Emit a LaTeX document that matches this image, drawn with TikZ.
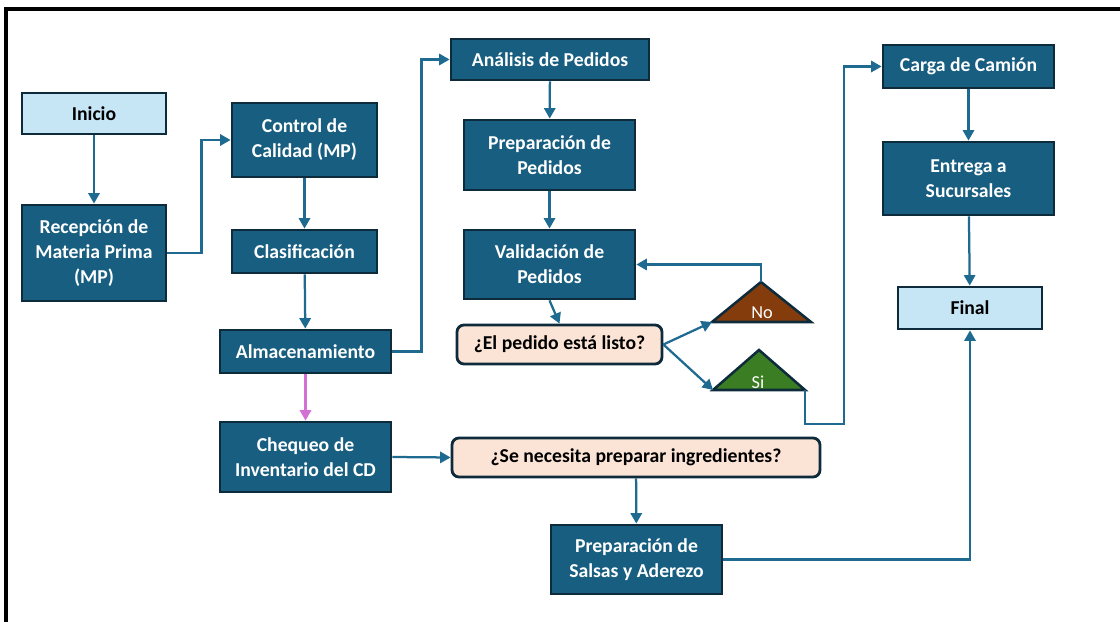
\documentclass[tikz,border=0pt]{standalone}
\usepackage{fontspec}
\setmainfont{Carlito}
\usetikzlibrary{arrows.meta,positioning}
\definecolor{azul}{HTML}{185E80}
\definecolor{borde}{HTML}{0E2B3C}
\definecolor{linea}{HTML}{1F6A90}
\definecolor{celeste}{HTML}{C6E5F5}
\definecolor{durazno}{HTML}{FBE3D6}
\definecolor{cafe}{HTML}{843C0C}
\definecolor{verde}{HTML}{3B7D23}
\definecolor{rosa}{HTML}{D46FD3}
\tikzset{dims/.style 2 args={minimum width=#1*0.025cm,minimum height=#2*0.025cm}}

\begin{document}
\begin{tikzpicture}[x=0.025cm,y=-0.025cm,
  caja/.style={draw=borde,line width=2pt,fill=azul,text=white,inner sep=0pt,align=center,
    font=\fontsize{14}{17.8}\selectfont\bfseries},
  claro/.style={caja,fill=celeste,text=black},
  pregunta/.style={caja,fill=durazno,text=black,rounded corners=5pt},
  flecha/.style={-{Triangle[length=2.6mm,width=2.8mm]},draw=linea,line width=1.6pt},
  tri/.style={draw=borde,line width=1.8pt,line join=miter},
  textotri/.style={text=white,inner sep=0pt,font=\fontsize{13}{15}\selectfont}]
\useasboundingbox (0,0) rectangle (1120,622);
% marco
\draw[line width=2.5pt] (6,622) -- (6,9) -- (1120,9);
%
\node (inicio) [claro,dims={144}{41}] at (94,113.5) {Inicio};
\node (recep) [caja,dims={144}{96}] at (94,253) {Recepción de\\Materia Prima\\(MP)};
\node (control) [caja,dims={145}{74}] at (304.5,140) {Control de\\Calidad (MP)};
\node (clasif) [caja,dims={145}{43}] at (304.5,251.5) {Clasificación};
\node (almac) [caja,dims={171}{43}] at (305.5,351.5) {Almacenamiento};
\node (cheq) [caja,dims={171}{70}] at (305.5,457) {Chequeo de\\Inventario del CD};
%
\node (analisis) [caja,dims={198}{41}] at (550,59.5) {Análisis de Pedidos};
\node (prepped) [caja,dims={171}{70}] at (549.5,155) {Preparación de\\Pedidos};
\node (valid) [caja,dims={171}{69}] at (549.5,264.5) {Validación de\\Pedidos};
\node (listo) [pregunta,dims={205}{39}] at (559.5,344.5) {¿El pedido está listo?};
\node (necesita) [pregunta,dims={368}{39}] at (636,457.5) {¿Se necesita preparar ingredientes?};
\node (salsas) [caja,dims={171}{69}] at (636.5,559.5) {Preparación de\\Salsas y Aderezo};
%
\node (carga) [caja,dims={171}{43}] at (968.5,66.5) {Carga de Camión};
\node (entrega) [caja,dims={171}{73}] at (968.5,178.5) {Entrega a\\Sucursales};
\node (final) [claro,dims={144}{42}] at (970,308) {Final};
%
\coordinate (noL) at (712,322);
\coordinate (noR) at (811,322);
\coordinate (noT) at (761,282);
\draw[tri,fill=cafe] (noL) -- (noT) -- (noR) -- cycle;
\node (no) [textotri] at (762,313) {No};
\coordinate (siL) at (713,390);
\coordinate (siR) at (805,390);
\coordinate (siT) at (759,350);
\draw[tri,fill=verde] (siL) -- (siT) -- (siR) -- cycle;
\node (si) [textotri] at (758,382) {Si};
%
\draw[flecha] (inicio) -- (recep);
\draw[flecha] (recep.east) -- ++(34,0) |- (control.west);
\draw[flecha] (control) -- (clasif);
\draw[flecha] (clasif) -- (almac);
\draw[flecha,draw=rosa] (almac) -- (cheq);
\draw[flecha] (almac.east) -- ++(29,0) |- (analisis.west);
\draw[flecha] (cheq.east) -- (necesita.west);
\draw[flecha] (necesita) -- (salsas);
\draw[flecha] (salsas.east) -| (final.south);
%
\draw[flecha] (analisis) -- (prepped);
\draw[flecha] (prepped) -- (valid);
\draw[flecha] (valid.south) -- (listo.north);
\draw[flecha] (listo.east) -- (noL);
\draw[flecha] (listo.east) -- (siL);
\draw[flecha] (noT) |- (valid.east);
\draw[flecha] (siR) -- ++(0,34) -- ++(39,0) |- (carga.west);
%
\draw[flecha] (carga) -- (entrega);
\draw[flecha] (entrega) -- (final);
\end{tikzpicture}
\end{document}
